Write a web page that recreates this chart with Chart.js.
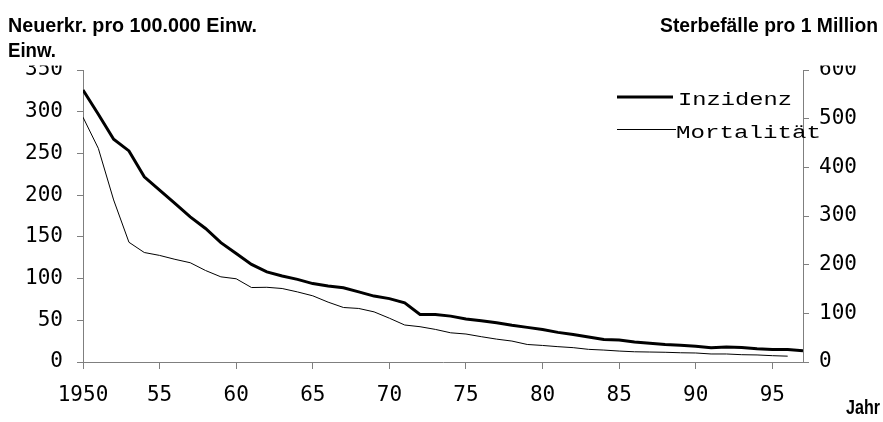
<!DOCTYPE html>
<html><head><meta charset="utf-8">
<script src="https://cdn.jsdelivr.net/npm/chart.js@4.4.0/dist/chart.umd.min.js"></script>
<style>html,body{margin:0;padding:0;background:#fff;}#wrap{width:883px;height:422px;}</style>
</head><body><div id="wrap"><canvas id="c" width="883" height="422"></canvas></div>
<script>
const years = [1950,1951,1952,1953,1954,1955,1956,1957,1958,1959,1960,1961,1962,1963,1964,1965,1966,1967,1968,1969,1970,1971,1972,1973,1974,1975,1976,1977,1978,1979,1980,1981,1982,1983,1984,1985,1986,1987,1988,1989,1990,1991,1992,1993,1994,1995,1996,1997];
const inzidenz = [326,297,267,253,222,206,190,174,160,143,130,117,108,103,99,94,91,89,84,79,76,71,57,57,55,51.5,49.5,47,44,41.5,39,35.5,33,30,27,26.5,24,22.5,21,20,19,17,18,17.5,16,15,15,13.5];
const mortalitaet = [503,439,333,246,225,219,211,204,188,175,171,153,153.5,151,144,136,123,112,110,103,90,76,72.5,67,60,57.5,52,47,43,36,34,31.5,29.5,26,24.5,22.5,21,20.5,20,19,18.5,16.5,16.5,15,14.5,13,12];
const xTicks = [1950,1955,1960,1965,1970,1975,1980,1985,1990,1995];
const xTickLabels = ['1950','55','60','65','70','75','80','85','90','95'];
const leftTicks = [0,50,100,150,200,250,300,350];
const rightTicks = [0,100,200,300,400,500,600];
const seriesNames = ['Inzidenz','Mortalität'];
const titleLeft1 = 'Neuerkr. pro 100.000 Einw.';
const titleLeft2 = 'Einw.';
const titleRight = 'Sterbefälle pro 1 Million';
const titleX = 'Jahr';

const axisColor = '#7f7f7f';
const tickFont = {family:'DejaVu Sans Mono', size:21};
const titleFont = 'bold 21px "Liberation Sans Narrow", "Liberation Sans", Arial, sans-serif';
const legendFont = '18px "Liberation Mono", "DejaVu Sans Mono", monospace';

function fitText(ctx, text, x, y, w, font, align){
  ctx.save();
  ctx.font = font;
  const m = ctx.measureText(text).width;
  const s = w / m;
  let x0 = align === 'right' ? x - w : x;
  ctx.translate(x0, y);
  ctx.scale(s, 1);
  ctx.textAlign = 'left';
  ctx.textBaseline = 'alphabetic';
  ctx.fillStyle = '#000';
  ctx.fillText(text, 0, 0);
  ctx.restore();
}

const overlay = {
  id:'overlay',
  afterDraw(chart){
    const ctx = chart.ctx;
    ctx.save();
    ctx.fillStyle = '#fff';
    ctx.fillRect(0, 0, 883, 65.5);
    ctx.restore();
    fitText(ctx, titleLeft1, 8, 31.5, 249, titleFont, 'left');
    fitText(ctx, titleLeft2, 8, 56.5, 48, titleFont, 'left');
    fitText(ctx, titleRight, 878, 31.5, 218, titleFont, 'right');
    fitText(ctx, titleX, 880, 414, 34, titleFont, 'right');
    // legend
    ctx.save();
    ctx.strokeStyle = '#000';
    ctx.lineWidth = 3;
    ctx.beginPath(); ctx.moveTo(617, 97); ctx.lineTo(673, 97); ctx.stroke();
    ctx.lineWidth = 1;
    ctx.beginPath(); ctx.moveTo(617, 129.5); ctx.lineTo(676, 129.5); ctx.stroke();
    ctx.restore();
    fitText(ctx, seriesNames[0], 678, 105, 114, legendFont, 'left');
    fitText(ctx, seriesNames[1], 676, 138, 145, legendFont, 'left');
  }
};

new Chart(document.getElementById('c'), {
  type:'line',
  data:{
    datasets:[
      {label:seriesNames[0], data:years.map((y,i)=>({x:y,y:inzidenz[i]})), yAxisID:'y', borderColor:'#000', borderWidth:3, pointRadius:0, tension:0, fill:false},
      {label:seriesNames[1], data:years.slice(0,mortalitaet.length).map((y,i)=>({x:y,y:mortalitaet[i]})), yAxisID:'y2', borderColor:'#000', borderWidth:1, pointRadius:0, tension:0, fill:false}
    ]
  },
  options:{
    responsive:false, animation:false, devicePixelRatio:1,
    layout:{padding:{top:70,left:0,right:0,bottom:0}},
    plugins:{legend:{display:false}, tooltip:{enabled:false}},
    scales:{
      x:{type:'linear', min:1950, max:1997,
        afterBuildTicks(s){ s.ticks = xTicks.map(v=>({value:v})); },
        afterFit(s){ s.height = 60; },
        ticks:{autoSkip:false, maxRotation:0, font:tickFont, color:'#000', padding:14,
          callback:v => xTickLabels[xTicks.indexOf(v)]},
        grid:{drawOnChartArea:false, drawTicks:true, tickLength:7, color:axisColor},
        border:{display:true, color:axisColor, width:1}
      },
      y:{position:'left', min:0, max:350,
        afterBuildTicks(s){ s.ticks = leftTicks.map(v=>({value:v})); },
        afterFit(s){ s.width = 83; },
        ticks:{font:tickFont, color:'#000', padding:14},
        grid:{drawOnChartArea:false, tickLength:6, color:axisColor},
        border:{display:true, color:axisColor, width:1}
      },
      y2:{position:'right', min:0, max:600,
        afterBuildTicks(s){ s.ticks = rightTicks.map(v=>({value:v})); },
        afterFit(s){ s.width = 80; },
        ticks:{font:tickFont, color:'#000', padding:10},
        grid:{drawOnChartArea:false, tickLength:6, color:axisColor},
        border:{display:true, color:axisColor, width:1}
      }
    }
  },
  plugins:[overlay]
});
</script></body></html>
